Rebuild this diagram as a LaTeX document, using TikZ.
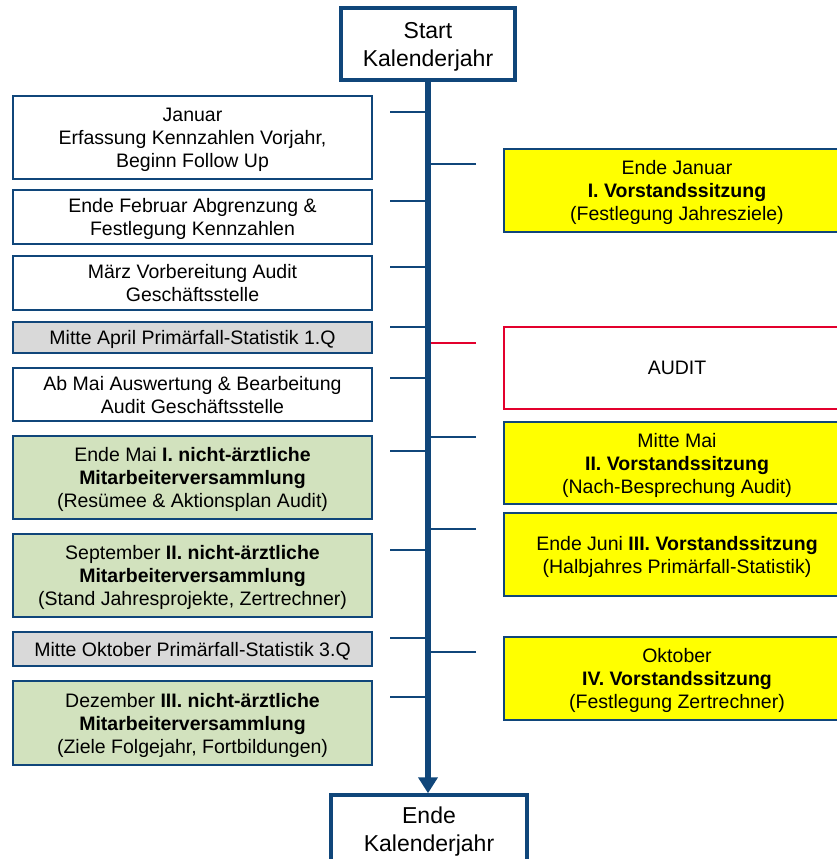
\documentclass[tikz,border=0pt]{standalone}
\usepackage{fontspec}
\setmainfont{Liberation Sans}
\usepackage{tikz}
\usetikzlibrary{arrows.meta}

\definecolor{navy}{RGB}{16,70,122}
\definecolor{boxgrey}{RGB}{217,217,217}
\definecolor{boxgreen}{RGB}{210,226,190}
\definecolor{boxyellow}{RGB}{255,255,0}
\definecolor{auditred}{RGB}{227,0,45}

\tikzset{
    yearbox/.style={draw=navy, line width=3.5pt, fill=white, inner sep=0pt, align=center,
        text depth=0pt, font=\fontsize{23}{28}\selectfont},
    leftbox/.style={draw=navy, line width=1.6pt, inner sep=0pt, align=center, text depth=0pt,
        minimum width=359pt, font=\fontsize{19.5}{23}\selectfont},
    rightbox/.style={leftbox, minimum width=346pt},
    tick/.style={draw=navy, line width=1.6pt},
}

\begin{document}
\begin{tikzpicture}[x=1pt, y=-1pt]
        \useasboundingbox (0, 0) rectangle (837, 859);
        \clip (0, 0) rectangle (837, 859);

        \node [yearbox, minimum width=174pt, minimum height=72pt] (start) at (428, 44) {Start\\Kalenderjahr};
        \node [yearbox, minimum width=196pt, minimum height=68pt] (ende) at (429, 829) {Ende\\Kalenderjahr};

        \node [leftbox, fill=white, minimum height=83pt] (L1) at (192.5, 137.5) {Januar\\Erfassung Kennzahlen Vorjahr,\\Beginn Follow Up};
        \node [leftbox, fill=white, minimum height=54pt] (L2) at (192.5, 217) {Ende Februar Abgrenzung \&\\Festlegung Kennzahlen};
        \node [leftbox, fill=white, minimum height=54pt] (L3) at (192.5, 283) {März Vorbereitung Audit\\Geschäftsstelle};
        \node [leftbox, fill=boxgrey, minimum height=31pt] (L4) at (192.5, 337.5) {Mitte April Primärfall-Statistik 1.Q};
        \node [leftbox, fill=white, minimum height=53pt] (L5) at (192.5, 394.5) {Ab Mai Auswertung \& Bearbeitung\\Audit Geschäftsstelle};
        \node [leftbox, fill=boxgreen, minimum height=83pt] (L6) at (192.5, 477.5) {Ende Mai \textbf{I. nicht-ärztliche}\\\textbf{Mitarbeiterversammlung}\\(Resümee \& Aktionsplan Audit)};
        \node [leftbox, fill=boxgreen, minimum height=83pt] (L7) at (192.5, 575.5) {September \textbf{II. nicht-ärztliche}\\\textbf{Mitarbeiterversammlung}\\(Stand Jahresprojekte, Zertrechner)};
        \node [leftbox, fill=boxgrey, minimum height=34pt] (L8) at (192.5, 649) {Mitte Oktober Primärfall-Statistik 3.Q};
        \node [leftbox, fill=boxgreen, minimum height=84pt] (L9) at (192.5, 723) {Dezember \textbf{III. nicht-ärztliche}\\\textbf{Mitarbeiterversammlung}\\(Ziele Folgejahr, Fortbildungen)};

        \node [rightbox, fill=boxyellow, minimum height=83pt] (R1) at (677, 190.5) {Ende Januar\\\textbf{I. Vorstandssitzung}\\(Festlegung Jahresziele)};
        \node [rightbox, draw=auditred, fill=white, minimum height=82pt] (R2) at (677, 368) {AUDIT};
        \node [rightbox, fill=boxyellow, minimum height=82pt] (R3) at (677, 463) {Mitte Mai\\\textbf{II. Vorstandssitzung}\\(Nach-Besprechung Audit)};
        \node [rightbox, fill=boxyellow, minimum height=83pt] (R4) at (677, 554.5) {Ende Juni \textbf{III. Vorstandssitzung}\\(Halbjahres Primärfall-Statistik)};
        \node [rightbox, fill=boxyellow, minimum height=83pt] (R5) at (677, 678.5) {Oktober\\\textbf{IV. Vorstandssitzung}\\(Festlegung Zertrechner)};

        % ticks on the time line
        \foreach \y [count=\i] in {112, 201, 267, 327, 378, 451, 550, 638, 697}
            \coordinate (lt\i) at (390, \y);
        \foreach \y [count=\i] in {164, 343, 437, 529, 652}
            \coordinate (rt\i) at (476, \y);

        \foreach \i in {1, ..., 9}
            \draw [tick] (lt\i) -- (lt\i -| start.south);
        \foreach \i in {1, 3, 4, 5}
            \draw [tick] (rt\i) -- (rt\i -| start.south);
        \draw [tick, draw=auditred] (rt2) -- (rt2 -| start.south);

        \draw [navy, line width=6pt, -{Triangle[width=19pt, length=16pt]}] (start.south) -- (start.south |- ende.north);
    \end{tikzpicture}
\end{document}
